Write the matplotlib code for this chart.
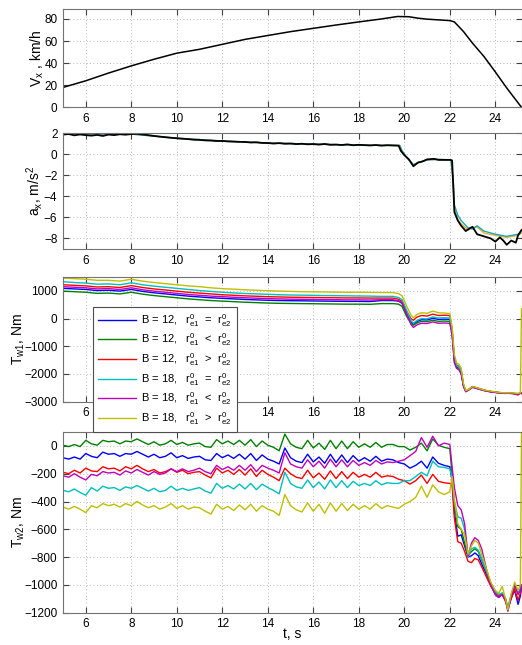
import numpy as np
import matplotlib
matplotlib.use("Agg")
import matplotlib.pyplot as plt

plt.rcParams['font.family'] = ['Liberation Sans', 'DejaVu Sans']
plt.rcParams['mathtext.default'] = 'regular'

# ---------------- data ----------------
# vehicle speed
t_v = [5, 6, 7, 8, 9, 10, 11, 12, 13, 14, 15, 16, 17, 18, 19, 19.7, 20.2, 20.6,
       21.0, 22.0, 22.2, 22.6, 23.0, 23.5, 24.0, 24.5, 25.15]
v_x = [18, 24, 31, 37.5, 43.5, 49, 52.5, 57, 61.5, 65, 68.5, 71.5, 74.5, 77.3,
       80, 82.2, 82, 80.7, 79.8, 78.5, 77.3, 68.6, 58, 46, 32, 17.5, 0]

# longitudinal acceleration, measured (black)
t_a1 = np.arange(5, 19.76, 0.25)
a_meas1 = [1.85, 1.9, 1.78, 1.86, 1.8, 1.75, 1.82, 1.72, 1.85, 1.8, 1.88, 1.84,
           1.9, 1.92, 1.86, 1.8, 1.72, 1.66, 1.6, 1.55, 1.5, 1.46, 1.42, 1.36,
           1.35, 1.3, 1.28, 1.24, 1.25, 1.2, 1.18, 1.16, 1.15, 1.1, 1.12, 1.06,
           1.05, 1.0, 1.04, 0.98, 1.0, 0.95, 0.98, 0.93, 0.95, 0.9, 0.96, 0.88,
           0.9, 0.86, 0.92, 0.84, 0.88, 0.85, 0.82, 0.86, 0.8, 0.84, 0.82, 0.8]
t_a2 = [19.85, 20.0, 20.2, 20.4, 20.6, 20.8, 21.0, 21.3, 21.5, 22.0, 22.1,
        22.15, 22.2, 22.35, 22.5, 22.7, 22.9, 23.0, 23.2, 23.5, 23.8, 24.0,
        24.2, 24.35, 24.5, 24.7, 24.9, 25.0, 25.15]
a_meas2 = [0.3, -0.1, -0.5, -1.15, -0.8, -0.7, -0.5, -0.45, -0.55, -0.55, -0.6,
           -3.0, -5.5, -6.3, -6.8, -7.3, -7.0, -6.9, -7.6, -7.8, -8.0, -8.3,
           -7.9, -8.2, -8.6, -8.2, -8.4, -7.7, -7.2]
# simulated acceleration (coloured)
t_as = [5, 8, 9, 10, 12, 14, 16, 18, 19.8, 19.9, 20.1, 20.4, 20.6, 21.0,
        21.5, 22.05, 22.15, 22.2, 22.35, 22.5, 22.8, 23.0, 23.2, 23.5, 24.0,
        24.5, 25.0, 25.15]
a_sim_c = [1.9, 1.9, 1.7, 1.5, 1.25, 1.05, 0.95, 0.85, 0.82, 0.3, -0.3, -1.0,
           -0.8, -0.55, -0.5, -0.55, -2.5, -4.8, -5.8, -6.3, -7.0, -7.1, -6.8,
           -7.3, -7.6, -7.8, -7.6, -7.3]
a_sim_y = [1.9, 1.9, 1.7, 1.5, 1.25, 1.05, 0.95, 0.85, 0.82, 0.3, -0.3, -1.1,
           -0.85, -0.55, -0.5, -0.55, -2.8, -5.2, -6.2, -6.6, -7.2, -7.0, -6.9,
           -7.5, -7.7, -7.9, -7.7, -7.5]

# front wheel torque T_w1
t_w1a = np.arange(5, 19.51, 0.5)
t_w1b = [19.75, 19.9, 20.1, 20.3, 20.4, 20.55, 20.75, 21.0, 21.25, 21.5, 21.75,
         22.0, 22.1, 22.2, 22.3, 22.4, 22.5, 22.6, 22.7, 22.85, 23.0, 23.2,
         23.5, 23.8, 24.1, 24.4, 24.7, 25.0, 25.1, 25.15]
tw1_blue = [1090, 1070, 1050, 1010, 1020, 990, 1050, 980, 930, 890, 850, 810,
            780, 750, 730, 710, 690, 675, 660, 650, 645, 640, 635, 630, 625,
            620, 620, 615, 650, 650,
            630, 550, 170, -130, -200, -110, -40, -50, 10, -30, -20, -30, -500,
            -1500, -1750, -1800, -1950, -2420, -2630, -2560, -2470, -2520,
            -2590, -2640, -2670, -2690, -2700, -2720, -2690, -2700]
tw1_green = [990, 970, 950, 910, 920, 890, 950, 880, 830, 790, 750, 710, 680,
             650, 630, 610, 590, 575, 560, 550, 545, 540, 535, 530, 525, 520,
             520, 515, 540, 540,
             520, 440, 80, -180, -240, -160, -100, -110, -60, -100, -90, -100,
             -550, -1550, -1780, -1820, -1970, -2430, -2630, -2560, -2470,
             -2520, -2590, -2640, -2670, -2690, -2700, -2720, -2690, -2700]
tw1_red = [1220, 1200, 1180, 1140, 1150, 1120, 1190, 1120, 1070, 1030, 990,
           950, 920, 890, 860, 840, 820, 805, 790, 780, 770, 765, 760, 755, 750,
           745, 745, 740, 740, 740,
           700, 620, 260, -10, -60, 50, 110, 90, 160, 110, 120, 110, -380,
           -1400, -1680, -1720, -1880, -2380, -2620, -2540, -2450, -2500, -2580,
           -2630, -2660, -2700, -2680, -2760, -2680, -2700]
tw1_cyan = [1330, 1300, 1280, 1240, 1250, 1220, 1290, 1220, 1170, 1130, 1090,
            1050, 1010, 980, 950, 925, 905, 890, 875, 860, 850, 845, 840, 830,
            825, 820, 815, 810, 800, 800,
            760, 680, 300, -80, -170, -70, 0, -10, 60, 20, 30, 20, -450, -1450,
            -1700, -1750, -1900, -2400, -2620, -2550, -2470, -2520, -2590,
            -2630, -2670, -2690, -2690, -2710, -2690, -2700]
tw1_magenta = [1150, 1130, 1110, 1070, 1080, 1050, 1110, 1040, 990, 950, 910,
               870, 840, 810, 790, 770, 750, 735, 720, 710, 700, 695, 690, 685,
               680, 675, 675, 670, 680, 680,
               640, 560, 160, -220, -320, -230, -170, -180, -120, -170, -160,
               -170, -600, -1600, -1800, -1850, -2000, -2450, -2640, -2570,
               -2480, -2530, -2600, -2650, -2680, -2700, -2700, -2720, -2700,
               -2700]
tw1_yellow = [1460, 1440, 1420, 1380, 1380, 1350, 1420, 1350, 1300, 1260, 1220,
              1180, 1150, 1110, 1080, 1060, 1040, 1020, 1005, 990, 980, 970,
              965, 960, 955, 950, 950, 945, 940, 940,
              900, 820, 450, 120, 30, 150, 210, 190, 270, 210, 200, 180, -300,
              -1300, -1600, -1650, -1800, -2350, -2600, -2550, -2450, -2500,
              -2580, -2620, -2660, -2680, -2680, -2700, -2680, 350]

# rear wheel torque T_w2
t_w2a = np.arange(5, 22.01, 0.25)
t_w2b = [22.1, 22.2, 22.35, 22.5, 22.65, 22.8, 22.95, 23.1, 23.25, 23.4, 23.6,
         23.8, 24.0, 24.15, 24.3, 24.45, 24.55, 24.7, 24.85, 25.0, 25.1, 25.15]
tw2_green = [5, -5, 10, -5, 40, 15, 5, 40, 30, 35, 15, 35, 30, 50, 30, 10, 30,
             5, 15, 40, 10, 25, 5, 15, 20, -5, -10, 45, 15, 35, 10, 40, 5, 45,
             -5, 35, 5, -10, -35, 85, 15, -10, -20, 40, -15, 20, -25, 40, -20,
             35, -20, 30, -10, 15, -10, 25, -10, 10, 10, -5, -5, -30, -10, 20,
             -35, 50, 5, -10, -20,
             -200, -420, -580, -600, -700, -790, -760, -740, -760, -820, -900,
             -990, -1050, -1070, -1060, -1100, -1170, -1080, -1010, -1060,
             -1030, -1000]
tw2_blue = [-85, -95, -80, -95, -55, -75, -85, -45, -60, -55,
            -75, -55, -60, -40, -60, -80, -60, -85, -75, -50,
            -85, -70, -90, -80, -75, -100, -105, -55, -85, -65,
            -90, -60, -95, -55, -105, -65, -95, -110, -130, -15,
            -85, -110, -120, -60, -115, -80, -125, -60, -120, -65,
            -120, -70, -110, -85, -110, -75, -110, -95, -100, -120,
            -130, -160, -140, -110, -160, -80, -125, -140, -150,
            -250, -480, -650, -640, -720, -800, -790, -770, -790, -850, -920,
            -1000, -1070, -1090, -1060, -1110, -1180, -1090, -1040, -1140,
            -1080, -1020]
tw2_red = [-190, -200, -175, -195, -160, -180, -185, -150, -165, -160,
           -180, -150, -165, -140, -165, -185, -170, -195, -185, -165,
           -190, -175, -200, -190, -185, -210, -230, -160, -195, -175,
           -205, -170, -210, -165, -220, -175, -205, -225, -250, -160,
           -200, -225, -235, -175, -230, -195, -240, -180, -235, -185,
           -235, -190, -225, -205, -225, -190, -225, -215, -220, -240,
           -250, -275, -250, -210, -270, -205, -255, -265, -270,
           -280, -520, -690, -700, -760, -830, -840, -810, -820, -870, -940,
           -1010, -1060, -1080, -1070, -1120, -1170, -1100, -1030, -1110,
           -1060, -1000]
tw2_cyan = [-320, -330, -310, -335, -355, -300, -325, -290, -305, -300,
            -320, -295, -305, -285, -305, -325, -305, -330, -320, -290,
            -320, -305, -320, -310, -300, -325, -340, -270, -305, -285,
            -310, -275, -310, -270, -315, -275, -300, -320, -345, -190,
            -270, -295, -305, -245, -300, -260, -310, -245, -300, -250,
            -300, -255, -285, -270, -285, -250, -280, -265, -270, -270,
            -250, -250, -220, -190, -215, -110, -150, -155, -165,
            -230, -400, -510, -520, -600, -800, -740, -730, -750, -810, -900,
            -990, -1050, -1070, -1060, -1100, -1160, -1070, -1000, -1060,
            -1030, -1000]
tw2_magenta = [-215, -225, -200, -225, -245, -205, -215, -185, -195, -190,
               -210, -180, -195, -170, -190, -210, -185, -205, -195, -165,
               -185, -165, -185, -175, -160, -185, -200, -140, -170, -150,
               -175, -140, -175, -135, -185, -140, -160, -175, -195, -50,
               -130, -150, -160, -100, -150, -110, -160, -95, -150, -100,
               -150, -105, -140, -120, -140, -105, -130, -115, -120, -110,
               -100, -70, -40, 60, -10, 70, 0, 20, 10,
               -150, -300, -430, -460, -560, -790, -700, -660, -680, -740, -880,
               -1000, -1070, -1090, -1070, -1110, -1190, -1080, -1000, -1070,
               -1040, -1000]
tw2_yellow = [-440, -455, -435, -455, -480, -430, -445, -415, -430, -420,
              -440, -415, -430, -400, -425, -445, -430, -455, -440, -415,
              -450, -430, -455, -440, -445, -470, -490, -420, -455, -435,
              -465, -425, -460, -420, -470, -430, -455, -470, -500, -350,
              -430, -460, -475, -410, -470, -420, -485, -410, -470, -415,
              -465, -420, -455, -430, -455, -415, -450, -430, -440, -450,
              -420, -400, -370, -290, -370, -280, -330, -350, -330,
              -220, -380, -560, -600, -640, -780, -720, -680, -700, -780, -880,
              -980, -1040, -1060, -1010, -1100, -1180, -1060, -980, -1040,
              -1000, 100]

labels = [r'B = 12,   $r^0_{e1}$  =  $r^0_{e2}$',
          r'B = 12,   $r^0_{e1}$  <  $r^0_{e2}$',
          r'B = 12,   $r^0_{e1}$  >  $r^0_{e2}$',
          r'B = 18,   $r^0_{e1}$  =  $r^0_{e2}$',
          r'B = 18,   $r^0_{e1}$  <  $r^0_{e2}$',
          r'B = 18,   $r^0_{e1}$  >  $r^0_{e2}$']
colors = [(0, 0, 1), (0, 0.5, 0), (1, 0, 0), (0, 0.75, 0.75),
          (0.75, 0, 0.75), (0.75, 0.75, 0)]

# ---------------- figure ----------------
fig = plt.figure(figsize=(5.22, 6.45), dpi=100)
W, H = 522.0, 645.0


def mk_axes(top, bottom):
    ax = fig.add_axes([63 / W, 1 - bottom / H, 458.5 / W, (bottom - top) / H])
    ax.set_xlim(5, 25.15)
    ax.set_xticks(range(6, 25, 2))
    ax.grid(True, linestyle=(0, (1, 3)), color='0.65', linewidth=0.6)
    ax.tick_params(direction='in', top=True, right=True, labelsize=8.5,
                   length=4, color='0.25', pad=4)
    for s in ax.spines.values():
        s.set_color('0.45')
    return ax


ax1 = mk_axes(9, 107.3)
ax1.plot(t_v, v_x, color='k', lw=1.1)
ax1.set_ylim(0, 89)
ax1.set_yticks(range(0, 81, 20))
ax1.set_ylabel('$V_x$ , km/h', fontsize=10, labelpad=-1)

ax2 = mk_axes(133, 249)
ax2.plot(t_as, a_sim_y, color=(0.93, 0.69, 0.13), lw=1)
ax2.plot(t_as, a_sim_c, color=(0.1, 0.65, 0.75), lw=1)
ax2.plot(np.concatenate([t_a1, t_a2]), a_meas1 + a_meas2, color='k', lw=1.3)
ax2.set_ylim(-9, 2)
ax2.set_yticks(range(-8, 3, 2))
ax2.set_ylabel('$a_x$, m/s$^2$', fontsize=10, labelpad=-1)

ax3 = mk_axes(277, 401.7)
t_w1 = np.concatenate([t_w1a, t_w1b])
lines = []
for y, c, lab in zip([tw1_blue, tw1_green, tw1_red, tw1_cyan, tw1_magenta,
                      tw1_yellow], colors, labels):
    ln, = ax3.plot(t_w1, y, color=c, lw=1, label=lab)
    lines.append(ln)
ax3.set_ylim(-3000, 1500)
ax3.set_yticks(range(-3000, 1001, 1000))
ax3.set_ylabel('$T_{w1}$, Nm', fontsize=10, labelpad=-2)
leg = fig.legend(handles=lines, loc='upper left',
                 bbox_to_anchor=(93 / W, 1 - 307 / H), fontsize=8,
                 handlelength=3.4, handletextpad=0.5, labelspacing=0.25,
                 borderpad=0.45, borderaxespad=0,
                 fancybox=False, framealpha=1, edgecolor='0.3')
leg.get_frame().set_linewidth(0.8)

ax4 = mk_axes(432, 612.7)
t_w2 = np.concatenate([t_w2a, t_w2b])
for y, c in zip([tw2_blue, tw2_green, tw2_red, tw2_cyan, tw2_magenta,
                 tw2_yellow], colors):
    ax4.plot(t_w2, y, color=c, lw=1)
ax4.set_ylim(-1200, 100)
ax4.set_yticks(range(-1200, 1, 200))
ax4.set_ylabel('$T_{w2}$, Nm', fontsize=10, labelpad=-2)
ax4.set_xlabel('t, s', fontsize=10, labelpad=-2)

fig.savefig('out.png', dpi=100)
